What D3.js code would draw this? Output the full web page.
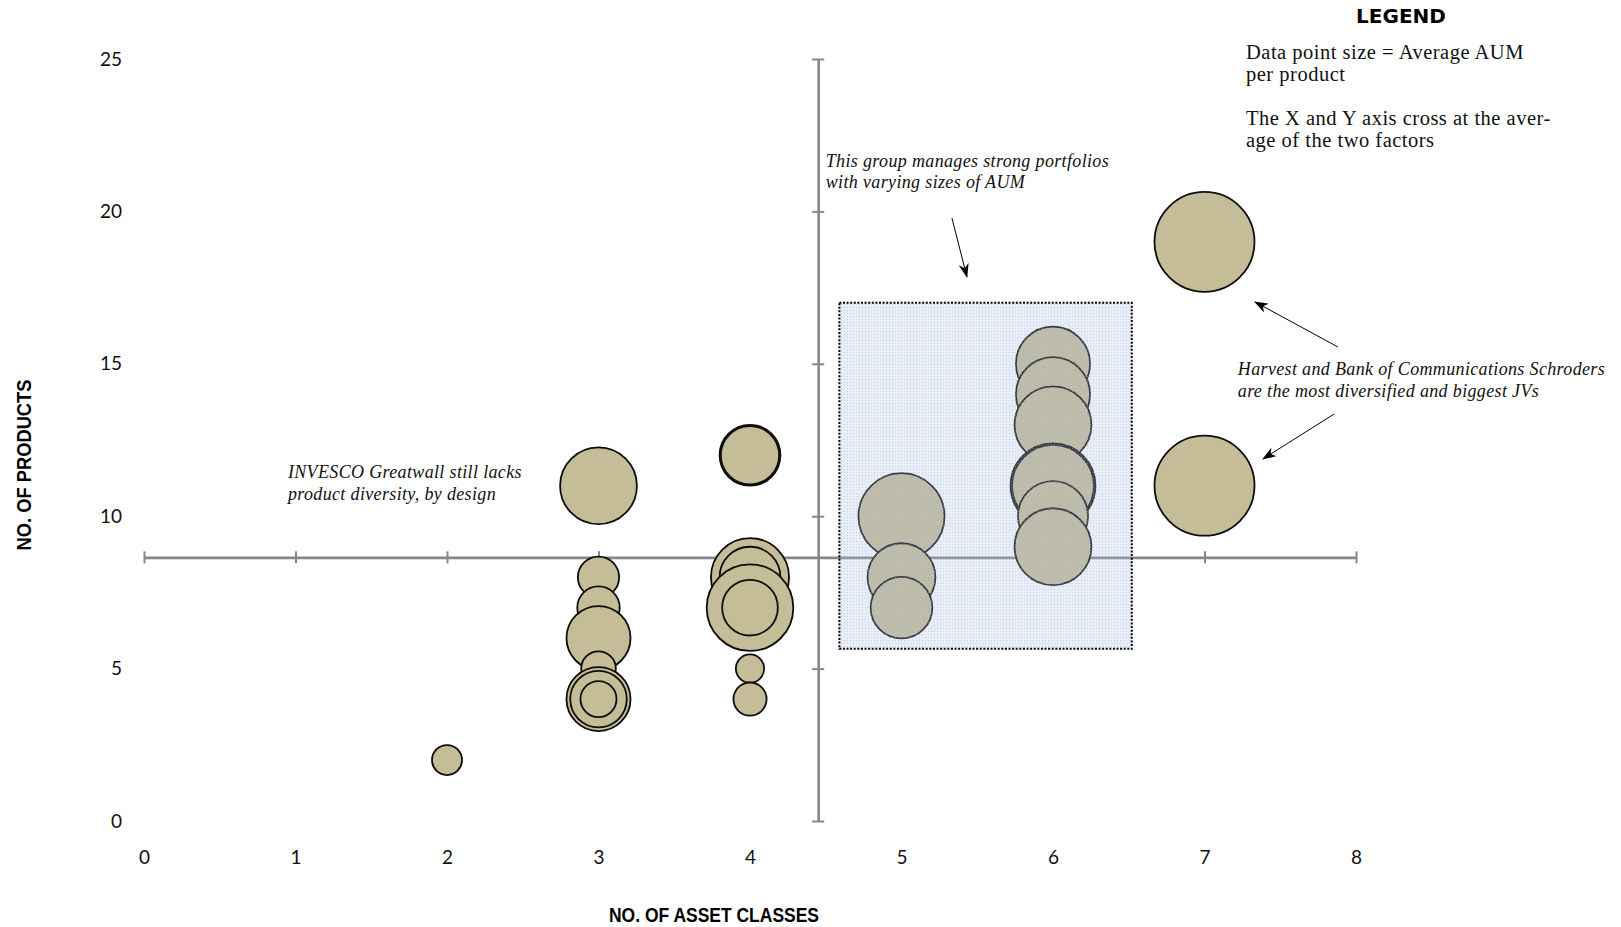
<!DOCTYPE html>
<html>
<head>
<meta charset="utf-8">
<script src="https://cdn.jsdelivr.net/npm/d3@7/dist/d3.min.js"></script>
<style>
  html, body { margin: 0; padding: 0; background: #ffffff; }
  svg { display: block; }
  .tick-label text { font-family: Lato, "Open Sans", sans-serif; font-size: 19px; fill: #111; }
  .serif { font-family: "Liberation Serif", "Times New Roman", serif; fill: #111; }
  .title { font-family: "Liberation Sans Narrow", "Liberation Sans", sans-serif; font-weight: bold; fill: #000; }
</style>
</head>
<body>
<svg id="chart" width="1621" height="927"></svg>
<script>
// JV fund managers: number of asset classes vs number of products,
// bubble area = average AUM per product.
const assetClasses  = [7, 6, 6, 6, 6, 6, 6, 6, 5, 5, 5, 4, 4, 4, 4, 4, 4, 4, 4, 3, 3, 3, 3, 3, 3, 3, 3, 2, 7];
const productCounts = [19, 15, 14, 13, 11, 11, 10, 9, 10, 8, 7, 12, 12, 8, 8, 7, 7, 5, 4, 11, 8, 7, 6, 5, 4, 4, 4, 2, 11];
const avgAum        = [10.0, 5.5, 5.5, 5.9, 7.2, 6.7, 4.9, 5.9, 7.4, 4.6, 3.8, 3.7, 3.4, 6.1, 3.7, 7.5, 3.1, 0.8, 1.1, 5.9, 1.7, 1.8, 4.1, 1.2, 4.1, 3.2, 1.3, 0.9, 10.0];

const xTickValues = [0, 1, 2, 3, 4, 5, 6, 7, 8];
const yTickValues = [0, 5, 10, 15, 20, 25];

// averages of the two factors: where the crossing axes meet
const avgAssetClasses = 4.45;
const avgProducts = 8.65;

const xTitle = "NO. OF ASSET CLASSES";
const yTitle = "NO. OF PRODUCTS";
const legendTitle = "LEGEND";
const legendLines = ["Data point size = Average AUM", "per product", "", "The X and Y axis cross at the aver-", "age of the two factors"];

const noteGroup = ["This group manages strong portfolios", "with varying sizes of AUM"];
const noteInvesco = ["INVESCO Greatwall still lacks", "product diversity, by design"];
const noteHarvest = ["Harvest and Bank of Communications Schroders", "are the most diversified and biggest JVs"];

const svg = d3.select("#chart");

const x = d3.scaleLinear().domain([0, 8]).range([144, 1356]);
const y = d3.scaleLinear().domain([0, 25]).range([821, 59]);
const r = d3.scaleSqrt().domain([0, 10]).range([0, 50]);

const defs = svg.append("defs");

// light blue dotted fill for the highlight box
const pat = defs.append("pattern")
  .attr("id", "dots").attr("patternUnits", "userSpaceOnUse")
  .attr("width", 3).attr("height", 3);
pat.append("rect").attr("width", 3).attr("height", 3).attr("fill", "rgba(175,192,218,0.28)");
pat.append("rect").attr("x", 1).attr("y", 1).attr("width", 1).attr("height", 1).attr("fill", "rgba(150,175,215,0.45)");

defs.append("marker")
  .attr("id", "arrow").attr("markerUnits", "userSpaceOnUse")
  .attr("viewBox", "0 0 14 10").attr("refX", 13).attr("refY", 5)
  .attr("markerWidth", 14).attr("markerHeight", 10).attr("orient", "auto")
  .append("path").attr("d", "M0,0 L14,5 L0,10 L4,5 Z").attr("fill", "#000");

// tick labels framing the chart
const xLabelAxis = d3.axisBottom(x).tickValues(xTickValues).tickSize(0).tickPadding(0).tickFormat(d3.format("d"));
svg.append("g").attr("class", "tick-label")
  .attr("transform", "translate(0,850)")
  .call(xLabelAxis)
  .call(g => g.select(".domain").remove())
  .call(g => g.selectAll("text").attr("dy", "0.71em"));

const yLabelAxis = d3.axisLeft(y).tickValues(yTickValues).tickSize(0).tickPadding(0).tickFormat(d3.format("d"));
svg.append("g").attr("class", "tick-label")
  .attr("transform", "translate(122,0)")
  .call(yLabelAxis)
  .call(g => g.select(".domain").remove());

// crossing axes at the averages
const axisColor = "#878787";
const hAxis = svg.append("g")
  .attr("transform", `translate(0,${y(avgProducts)})`)
  .call(d3.axisBottom(x).tickValues(xTickValues).tickSizeOuter(0).tickFormat(""));
hAxis.select(".domain").attr("stroke", axisColor).attr("stroke-width", 2.6);
hAxis.selectAll(".tick line").attr("y1", -6).attr("y2", 6).attr("stroke", axisColor).attr("stroke-width", 2);

const vAxis = svg.append("g")
  .attr("transform", `translate(${x(avgAssetClasses)},0)`)
  .call(d3.axisLeft(y).tickValues(yTickValues).tickSizeOuter(0).tickFormat(""));
vAxis.select(".domain").attr("stroke", axisColor).attr("stroke-width", 2.6);
vAxis.selectAll(".tick line").attr("x1", -6).attr("x2", 6).attr("stroke", axisColor).attr("stroke-width", 2);

// bubbles
const firms = assetClasses.map((a, i) => ({ a, p: productCounts[i], aum: avgAum[i] }));
svg.append("g").selectAll("circle")
  .data(firms).join("circle")
  .attr("cx", d => x(d.a))
  .attr("cy", d => y(d.p))
  .attr("r", d => r(d.aum))
  .attr("fill", "#c5bd97")
  .attr("stroke", "#0d0d0d")
  .attr("stroke-width", 1.8);

// highlight box over the strong-portfolio group
const box = { x0: 4.59, x1: 6.52, y0: 5.65, y1: 17.0 };
svg.append("rect")
  .attr("x", x(box.x0)).attr("y", y(box.y1))
  .attr("width", x(box.x1) - x(box.x0)).attr("height", y(box.y0) - y(box.y1))
  .attr("fill", "url(#dots)")
  .attr("stroke", "#000").attr("stroke-width", 2).attr("stroke-dasharray", "2,1.6");

// annotations
function note(lines, xv, yv) {
  const t = svg.append("text").attr("class", "serif")
    .attr("x", x(xv)).attr("y", y(yv))
    .attr("font-size", 18).attr("letter-spacing", 0.35).attr("font-style", "italic");
  lines.forEach((s, i) => t.append("tspan").attr("x", x(xv)).attr("dy", i === 0 ? 0 : 21.5).text(s));
}
note(noteGroup, 4.5, 21.46);
note(noteInvesco, 0.95, 11.25);
note(noteHarvest, 7.22, 14.63);

const arrows = [
  { from: [5.333, 19.78], to: [5.432, 17.85] },
  { from: [7.881, 15.55], to: [7.333, 17.03] },
  { from: [7.855, 13.35], to: [7.386, 11.88] }
];
svg.append("g").selectAll("line").data(arrows).join("line")
  .attr("x1", d => x(d.from[0])).attr("y1", d => y(d.from[1]))
  .attr("x2", d => x(d.to[0])).attr("y2", d => y(d.to[1]))
  .attr("stroke", "#000").attr("stroke-width", 1)
  .attr("marker-end", "url(#arrow)");

// legend
svg.append("text")
  .attr("x", 1401).attr("y", 23)
  .attr("text-anchor", "middle")
  .attr("font-family", "'DejaVu Sans', sans-serif").attr("font-weight", "bold")
  .attr("font-size", 20).attr("fill", "#000")
  .text(legendTitle);
const lt = svg.append("text").attr("class", "serif").attr("font-size", 20.5).attr("letter-spacing", 0.5);
const legendBaselines = [59, 81, 103, 125, 147];
legendLines.forEach((s, i) => {
  if (s) lt.append("tspan").attr("x", 1246).attr("y", legendBaselines[i]).text(s);
});

// axis titles
svg.append("text").attr("class", "title")
  .attr("x", 714).attr("y", 922)
  .attr("text-anchor", "middle").attr("font-size", 20)
  .attr("textLength", 210).attr("lengthAdjust", "spacingAndGlyphs")
  .text(xTitle);
svg.append("text").attr("class", "title")
  .attr("transform", "translate(31,465) rotate(-90)")
  .attr("text-anchor", "middle").attr("font-size", 20)
  .attr("textLength", 171).attr("lengthAdjust", "spacingAndGlyphs")
  .text(yTitle);
</script>
</body>
</html>
